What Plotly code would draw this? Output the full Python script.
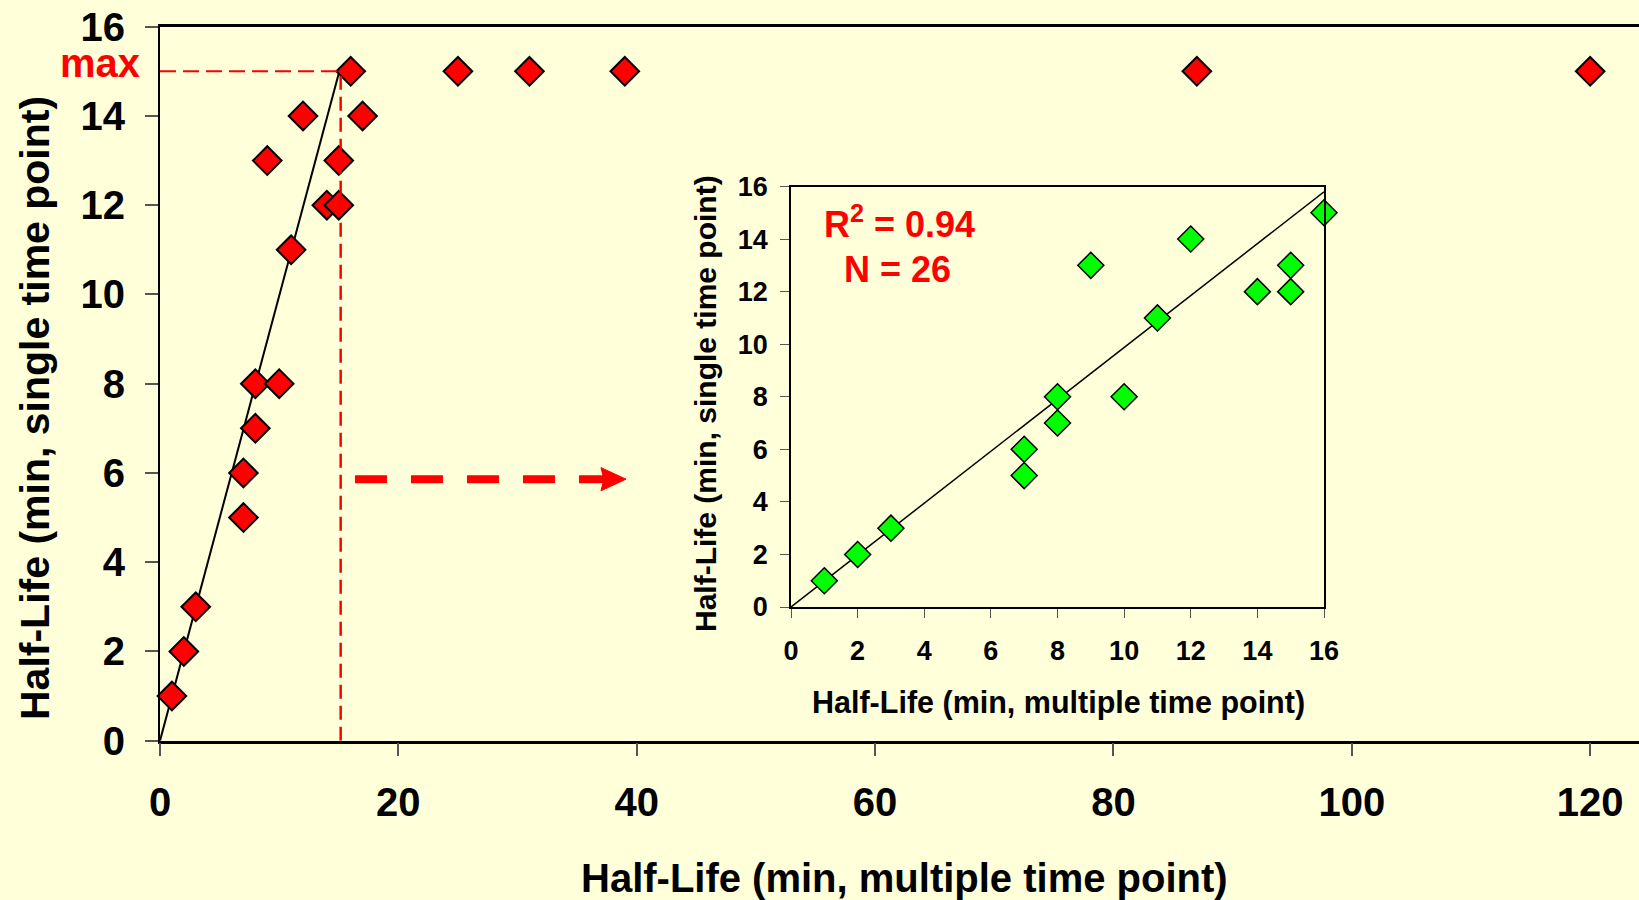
import plotly.graph_objects as go

# ---------------- data ----------------
main_x = [1, 2, 3, 7, 7, 8, 8, 9, 10, 11, 12, 14, 15, 15, 16, 17, 25, 31, 39, 87, 120]
main_y = [1, 2, 3, 5, 6, 7, 8, 13, 8, 11, 14, 12, 12, 13, 15, 14, 15, 15, 15, 15, 15]

inset_x = [1, 2, 3, 7, 7, 8, 8, 9, 10, 11, 12, 14, 15, 15, 16]
inset_y = [1, 2, 3, 5, 6, 7, 8, 13, 8, 11, 14, 12, 12, 13, 15]

main_fit_x = [0, 15.05]
main_fit_y = [0, 15.0]
inset_fit_x = [0, 16]
inset_fit_y = [0, 15.8]

max_value = 15
max_x = 15.16

main_xticks = [0, 20, 40, 60, 80, 100, 120]
main_yticks = [0, 2, 4, 6, 8, 10, 12, 14, 16]
inset_ticks = [0, 2, 4, 6, 8, 10, 12, 14, 16]

x_title = "Half-Life (min, multiple time point)"
y_title = "Half-Life (min, single time point)"
stats_r2 = "R<sup>2</sup> = 0.94"
stats_n = "N = 26"

# arrow (data coords of main axes)
arrow_x0, arrow_x1, arrow_tip, arrow_y = 16.36, 37.3, 39.1, 5.86
arrow_half_h = 0.26

# ---------------- style ----------------
W, H = 1639, 900
BG = "#FFFFDA"
FONT = "Liberation Sans, Arial, sans-serif"


def px_x(p):
    return p / W


def px_y(p):
    return 1 - p / H


fig = go.Figure()

fig.add_trace(go.Scatter(x=main_fit_x, y=main_fit_y, mode="lines",
                         line=dict(color="black", width=2),
                         xaxis="x", yaxis="y", showlegend=False, hoverinfo="skip"))
fig.add_trace(go.Scatter(x=main_x, y=main_y, mode="markers",
                         marker=dict(symbol="diamond", size=22, color="#FF0000",
                                     line=dict(color="black", width=2)),
                         xaxis="x", yaxis="y", showlegend=False, cliponaxis=False))

fig.add_trace(go.Scatter(x=inset_fit_x, y=inset_fit_y, mode="lines",
                         line=dict(color="black", width=1.5),
                         xaxis="x2", yaxis="y2", showlegend=False, hoverinfo="skip"))
fig.add_trace(go.Scatter(x=inset_x, y=inset_y, mode="markers",
                         marker=dict(symbol="diamond", size=20, color="#00FF00",
                                     line=dict(color="black", width=1.5)),
                         xaxis="x2", yaxis="y2", showlegend=False, cliponaxis=False))

tickfont_main = dict(family=FONT, size=40, color="black", weight="bold")
tickfont_inset = dict(family=FONT, size=27, color="black", weight="bold")

shapes = [
    # "max" horizontal dashed line
    dict(type="line", xref="x", yref="y", x0=0, x1=max_x, y0=max_value, y1=max_value,
         line=dict(color="#FF0000", width=2, dash="16px,7px")),
    # vertical dashed line
    dict(type="line", xref="x", yref="y", x0=max_x, x1=max_x, y0=max_value - 0.1, y1=0,
         line=dict(color="#FF0000", width=2.5, dash="14px,7px")),
    # thick dashed arrow shaft
    dict(type="line", xref="x", yref="y", x0=arrow_x0, x1=arrow_x1, y0=arrow_y, y1=arrow_y,
         line=dict(color="#FF0000", width=8, dash="32px,24px")),
    # arrow head
    dict(type="path", xref="x", yref="y",
         path=f"M {arrow_x1 - 0.3},{arrow_y + arrow_half_h} L {arrow_tip},{arrow_y} "
              f"L {arrow_x1 - 0.3},{arrow_y - arrow_half_h} L {arrow_x1 - 0.05},{arrow_y} Z",
         fillcolor="#FF0000", line=dict(color="#FF0000", width=1)),
]

annotations = [
    dict(text=x_title, x=px_x(905), y=px_y(878), xref="paper", yref="paper",
         showarrow=False, xanchor="center", yanchor="middle",
         font=dict(family=FONT, size=40, color="black", weight="bold")),
    dict(text=y_title, x=px_x(35), y=px_y(408), xref="paper", yref="paper",
         showarrow=False, xanchor="center", yanchor="middle", textangle=-90,
         font=dict(family=FONT, size=41, color="black", weight="bold")),
    dict(text=x_title, x=px_x(1058), y=px_y(702), xref="paper", yref="paper",
         showarrow=False, xanchor="center", yanchor="middle",
         font=dict(family=FONT, size=30.5, color="black", weight="bold")),
    dict(text=y_title, x=px_x(705), y=px_y(404), xref="paper", yref="paper",
         showarrow=False, xanchor="center", yanchor="middle", textangle=-90,
         font=dict(family=FONT, size=30, color="black", weight="bold")),
    dict(text="max", x=px_x(142), y=px_y(63), xref="paper", yref="paper",
         showarrow=False, xanchor="right", yanchor="middle",
         font=dict(family=FONT, size=40, color="#FF0000", weight="bold")),
    dict(text=stats_r2, x=px_x(899), y=px_y(222), xref="paper", yref="paper",
         showarrow=False, xanchor="center", yanchor="middle",
         font=dict(family=FONT, size=36, color="#FF0000", weight="bold")),
    dict(text=stats_n, x=px_x(897), y=px_y(269), xref="paper", yref="paper",
         showarrow=False, xanchor="center", yanchor="middle",
         font=dict(family=FONT, size=36, color="#FF0000", weight="bold")),
]

axis_common = dict(showgrid=False, zeroline=False, showline=True, linecolor="black",
                   ticks="outside", automargin=False)

fig.update_layout(
    width=W, height=H,
    margin=dict(l=0, r=0, t=0, b=0, pad=0, autoexpand=False),
    paper_bgcolor=BG, plot_bgcolor=BG,
    xaxis=dict(domain=[px_x(160), 1.0], range=[0, 124.1], tickvals=main_xticks,
               linewidth=2.5, mirror=True, ticklen=13, tickwidth=1.5, tickcolor="#555",
               tickfont=tickfont_main, ticklabelstandoff=12, anchor="y", **axis_common),
    yaxis=dict(domain=[px_y(740.7), px_y(26.7)], range=[0, 16], tickvals=main_yticks,
               linewidth=2, ticklen=13, tickwidth=1.5, tickcolor="#555",
               tickfont=tickfont_main, ticklabelstandoff=12, anchor="x", **axis_common),
    xaxis2=dict(domain=[px_x(791), px_x(1324)], range=[0, 16], tickvals=inset_ticks,
                linewidth=1.5, mirror=True, ticklen=9, tickwidth=1.2, tickcolor="#555",
                tickfont=tickfont_inset, ticklabelstandoff=10, anchor="y2", **axis_common),
    yaxis2=dict(domain=[px_y(607), px_y(186.5)], range=[0, 16], tickvals=inset_ticks,
                linewidth=1.5, mirror=True, ticklen=9, tickwidth=1.2, tickcolor="#555",
                tickfont=tickfont_inset, ticklabelstandoff=7, anchor="x2", **axis_common),
    shapes=shapes,
    annotations=annotations,
)

fig.write_html("out.html",
               config={"displayModeBar": False},
               post_script="document.body.style.margin='0';document.documentElement.style.overflow='hidden';")
